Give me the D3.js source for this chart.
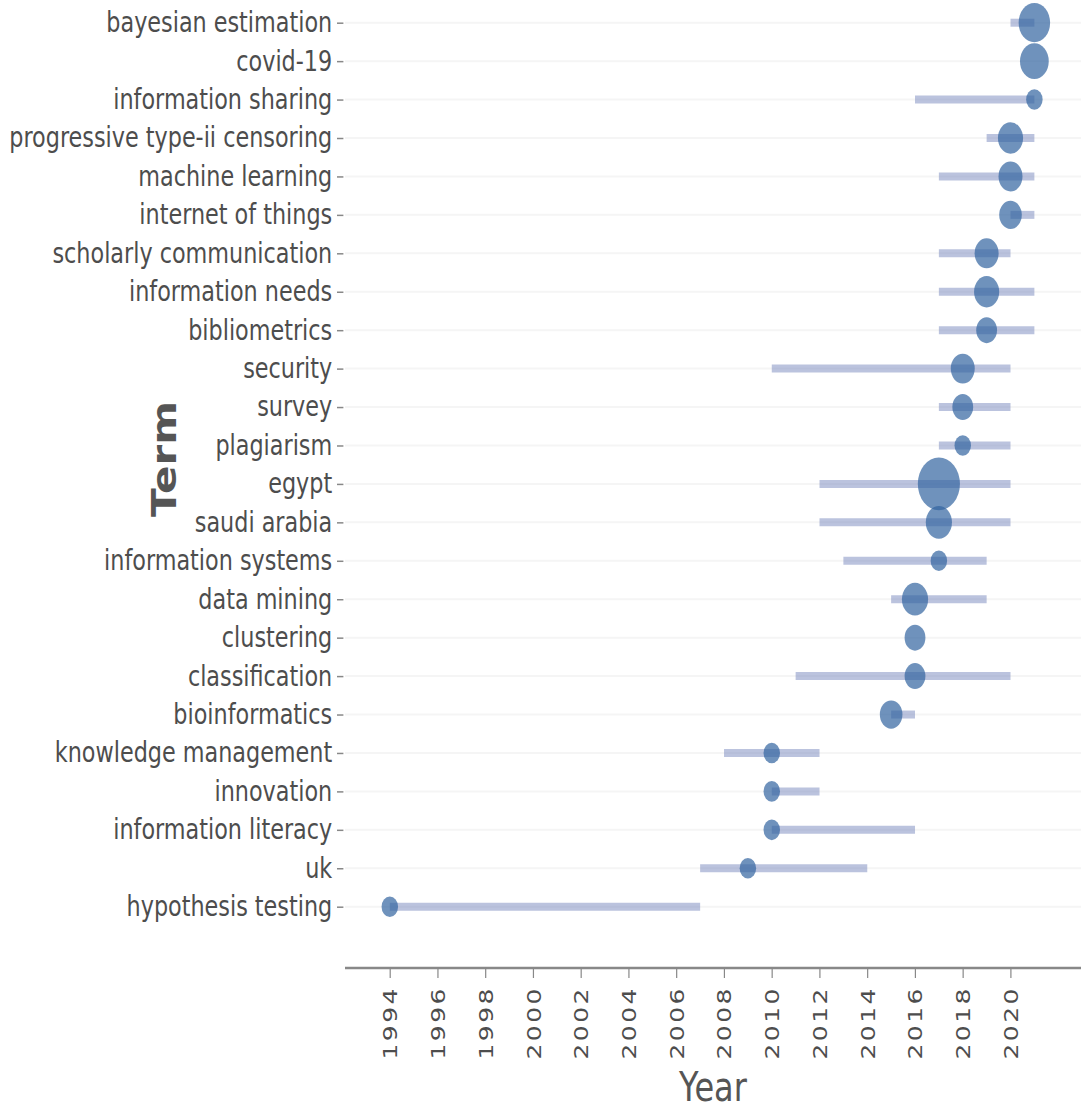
<!DOCTYPE html>
<html>
<head>
<meta charset="utf-8">
<script src="https://cdn.jsdelivr.net/npm/d3@7"></script>
<style>
  html, body { margin: 0; padding: 0; background: #fff; }
  svg { display: block; }
</style>
</head>
<body>
<svg id="chart" width="1081" height="1112"></svg>
<script>
// ---- data (top to bottom) ----
const terms = ["bayesian estimation","covid-19","information sharing","progressive type-ii censoring","machine learning","internet of things","scholarly communication","information needs","bibliometrics","security","survey","plagiarism","egypt","saudi arabia","information systems","data mining","clustering","classification","bioinformatics","knowledge management","innovation","information literacy","uk","hypothesis testing"];
const yearQ1  = [2020,2021,2016,2019,2017,2020,2017,2017,2017,2010,2017,2017,2012,2012,2013,2015,2016,2011,2015,2008,2010,2010,2007,1994];
const yearMed = [2021,2021,2021,2020,2020,2020,2019,2019,2019,2018,2018,2018,2017,2017,2017,2016,2016,2016,2015,2010,2010,2010,2009,1994];
const yearQ3  = [2021,2021,2021,2021,2021,2021,2020,2021,2021,2020,2020,2020,2020,2020,2019,2019,2016,2020,2016,2012,2012,2016,2014,2007];
const freq    = [17,13,5,9,8,7,8,9,6,8,6,5,40,10,5,10,6,6,7,5,5,5,5,5];
const xTicks  = [1994,1996,1998,2000,2002,2004,2006,2008,2010,2012,2014,2016,2018,2020];
const xTitle = "Year";
const yTitle = "Term";

// ---- layout ----
const SX = 0.8; // picture is horizontally compressed
const svg = d3.select("#chart");
const g = svg.append("g").attr("transform", `scale(${SX},1)`);

const plotLeft = 345 / SX, plotRight = 1081 / SX;
const axisY = 968;

const x = d3.scaleLinear()
  .domain([1994, 2020])
  .range([389.8 / SX, 1010.5 / SX]);

const y = d3.scalePoint()
  .domain(terms)
  .range([22.7, 906.7]);

const minF = d3.min(freq), maxF = d3.max(freq);
const rScale = d3.scaleSqrt().domain([0, maxF - minF]).range([10.3, 26.3]);

const data = terms.map((t, i) => ({term: t, q1: yearQ1[i], med: yearMed[i], q3: yearQ3[i], f: freq[i]}));

// gridlines
g.append("g").selectAll("line").data(terms).join("line")
  .attr("x1", plotLeft).attr("x2", plotRight)
  .attr("y1", d => y(d)).attr("y2", d => y(d))
  .attr("stroke", "#f5f5f5").attr("stroke-width", 2);

// y axis
const yAxis = g.append("g")
  .attr("transform", `translate(${plotLeft - 2},0)`)
  .call(d3.axisLeft(y).tickSize(8).tickPadding(6));
yAxis.select(".domain").remove();
yAxis.selectAll(".tick line").attr("stroke", "#888").attr("stroke-width", 1.5);
yAxis.selectAll(".tick text")
  .attr("font-family", "DejaVu Sans, sans-serif")
  .attr("font-size", 27.9)
  .attr("fill", "#4d4d4d");

// bars (Q1 -> Q3)
g.append("g").selectAll("line").data(data).join("line")
  .attr("x1", d => x(d.q1)).attr("x2", d => x(d.q3))
  .attr("y1", d => y(d.term)).attr("y2", d => y(d.term))
  .attr("stroke", "rgb(120,135,190)").attr("stroke-opacity", 0.5)
  .attr("stroke-width", 8);

// points at median year
g.append("g").selectAll("circle").data(data).join("circle")
  .attr("cx", d => x(d.med)).attr("cy", d => y(d.term))
  .attr("r", d => rScale(d.f - minF))
  .attr("fill", "rgb(50,100,160)").attr("fill-opacity", 0.7);

// x axis
const xAxis = g.append("g")
  .attr("transform", `translate(0,${axisY})`)
  .call(d3.axisBottom(x).tickValues(xTicks).tickFormat(d3.format("d")).tickSize(10).tickSizeOuter(0));
xAxis.select(".domain")
  .attr("d", `M${plotLeft},0H${plotRight}`)
  .attr("stroke", "#888").attr("stroke-width", 2.5);
xAxis.selectAll(".tick line").attr("stroke", "#888").attr("stroke-width", 1.5);
xAxis.selectAll(".tick text")
  .attr("font-family", "DejaVu Sans, sans-serif")
  .attr("font-size", 25)
  .attr("letter-spacing", 2.5)
  .attr("fill", "#4d4d4d")
  .attr("text-anchor", "end")
  .attr("dy", null)
  .attr("dominant-baseline", "central")
  .attr("transform", "translate(0,10) rotate(-90)")
  .attr("y", 0).attr("x", -8);

// axis titles
g.append("text")
  .attr("x", (plotLeft + plotRight) / 2).attr("y", 1101)
  .attr("text-anchor", "middle")
  .attr("font-family", "DejaVu Sans, sans-serif")
  .attr("font-size", 40)
  .attr("fill", "#555")
  .text(xTitle);

g.append("text")
  .attr("transform", `translate(${165 / SX},459) rotate(-90)`)
  .attr("text-anchor", "middle")
  .attr("dominant-baseline", "central")
  .attr("font-family", "DejaVu Sans, sans-serif")
  .attr("font-weight", "bold")
  .attr("font-size", 42)
  .attr("fill", "#555")
  .text(yTitle);
</script>
</body>
</html>
